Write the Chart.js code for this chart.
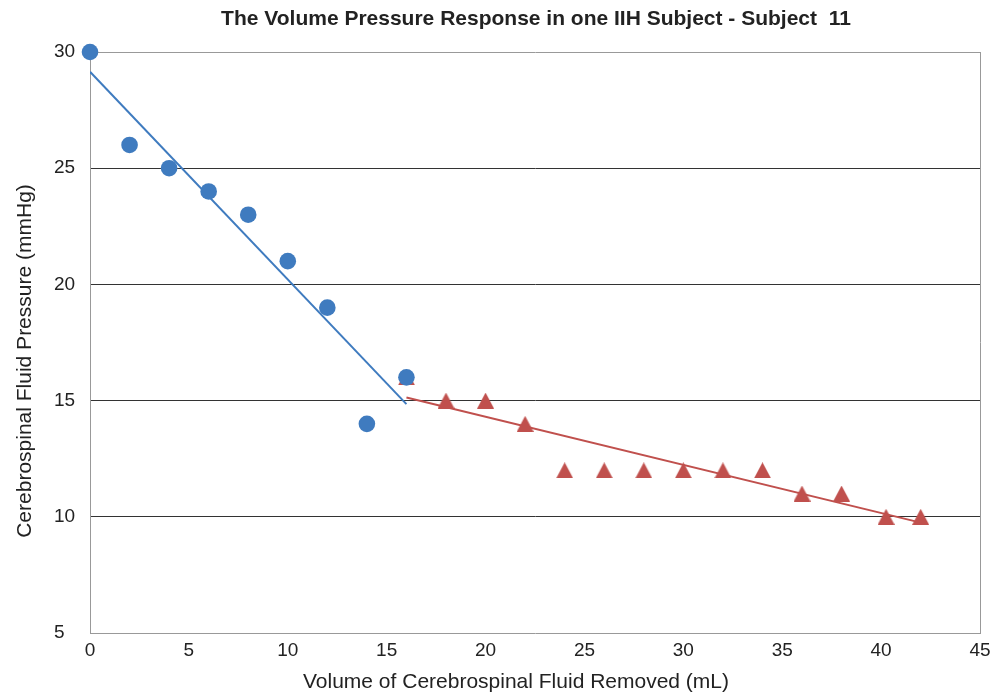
<!DOCTYPE html>
<html>
<head>
<meta charset="utf-8">
<title>Volume Pressure Response</title>
<script src="https://cdn.jsdelivr.net/npm/chart.js@4"></script>
<style>
  html, body { margin: 0; padding: 0; background: #fff; }
  #wrap { width: 1005px; height: 694px; }
</style>
</head>
<body>
<div id="wrap"><canvas id="chart" width="1005" height="694"></canvas></div>
<script>
const FONT = "'Liberation Sans', Arial, Helvetica, sans-serif";

const chartTitle = 'The Volume Pressure Response in one IIH Subject - Subject  11';
const xTitle = 'Volume of Cerebrospinal Fluid Removed (mL)';
const yTitle = 'Cerebrospinal Fluid Pressure (mmHg)';

// early phase (circles)
const earlyVolume = [0, 2, 4, 6, 8, 10, 12, 14, 16];
const earlyPressure = [30, 26, 25, 24, 23, 21, 19, 14, 16];

// late phase (triangles)
const lateVolume = [16, 18, 20, 22, 24, 26, 28, 30, 32, 34, 36, 38, 40.25, 42];
const latePressure = [16, 15, 15, 14, 12, 12, 12, 12, 12, 12, 11, 11, 10, 10];

// trend lines, end points
const earlyFitVolume = [0, 16];
const earlyFitPressure = [29.15, 14.85];
const lateFitVolume = [16, 42];
const lateFitPressure = [15.13, 9.75];

const xTicks = [0, 5, 10, 15, 20, 25, 30, 35, 40, 45];
const yTicks = [5, 10, 15, 20, 25, 30];

const BLUE = '#3f7bbf';
const RED = '#c0504d';

const pts = (xs, ys) => xs.map((x, i) => ({ x, y: ys[i] }));

// Excel-style triangle marker, centred on its bounding box
function triangleMarker(color) {
  const c = document.createElement('canvas');
  c.width = 17;
  c.height = 16;
  const g = c.getContext('2d');
  g.fillStyle = color;
  g.beginPath();
  g.moveTo(8.5, 0);
  g.lineTo(17, 16);
  g.lineTo(0, 16);
  g.closePath();
  g.fill();
  return c;
}

// titles drawn by hand: the original ones are not centred on the plot
const titlesPlugin = {
  id: 'titles',
  afterDraw(chart) {
    const { ctx } = chart;
    ctx.save();
    ctx.fillStyle = '#222';
    ctx.textAlign = 'center';
    ctx.textBaseline = 'middle';

    ctx.font = `bold 21px ${FONT}`;
    ctx.fillText(chartTitle, 536, 19);

    ctx.font = `21px ${FONT}`;
    ctx.fillText(xTitle, 516, 682);

    ctx.translate(25, 361);
    ctx.rotate(-Math.PI / 2);
    ctx.fillText(yTitle, 0, 0);
    ctx.restore();
  }
};

new Chart(document.getElementById('chart'), {
  type: 'scatter',
  data: {
    datasets: [
      {
        label: 'early',
        data: pts(earlyVolume, earlyPressure),
        pointStyle: 'circle',
        pointRadius: 8.3,
        backgroundColor: BLUE,
        borderColor: BLUE,
        borderWidth: 0,
        clip: false,
      },
      {
        label: 'early fit',
        data: pts(earlyFitVolume, earlyFitPressure),
        showLine: true,
        pointRadius: 0,
        borderColor: BLUE,
        borderWidth: 2,
      },
      {
        label: 'late',
        data: pts(lateVolume, latePressure),
        pointStyle: triangleMarker(RED),
        pointRadius: 9,
        backgroundColor: RED,
        borderColor: RED,
        borderWidth: 0,
        clip: false,
      },
      {
        label: 'late fit',
        data: pts(lateFitVolume, lateFitPressure),
        showLine: true,
        pointRadius: 0,
        borderColor: RED,
        borderWidth: 2,
      },
    ],
  },
  options: {
    responsive: false,
    animation: false,
    layout: { padding: { left: 54, right: 25, top: 52, bottom: 0 } },
    plugins: {
      legend: { display: false },
      tooltip: { enabled: false },
      title: { display: false },
    },
    scales: {
      x: {
        type: 'linear',
        min: 0,
        max: 45,
        afterBuildTicks: s => { s.ticks = xTicks.map(v => ({ value: v })); },
        afterFit: s => { s.height = 61; },
        grid: {
          drawTicks: false,
          color: c => c.tick && c.tick.value === 45 ? '#999' : 'rgba(0,0,0,0)',
        },
        border: { color: '#999', width: 1 },
        ticks: {
          padding: 6,
          color: '#222',
          maxRotation: 0,
          font: { family: FONT, size: 19 },
        },
      },
      y: {
        type: 'linear',
        min: 5,
        max: 30,
        afterBuildTicks: s => { s.ticks = yTicks.map(v => ({ value: v })); },
        afterFit: s => { s.width = 36; },
        grid: {
          drawTicks: false,
          color: c => {
            const v = c.tick && c.tick.value;
            if (v === 30) return '#999';
            if (v === 5) return 'rgba(0,0,0,0)';
            return '#333';
          },
        },
        border: { color: '#999', width: 1 },
        ticks: {
          crossAlign: 'far',
          color: '#222',
          font: { family: FONT, size: 19 },
        },
      },
    },
  },
  plugins: [titlesPlugin],
});
</script>
</body>
</html>
